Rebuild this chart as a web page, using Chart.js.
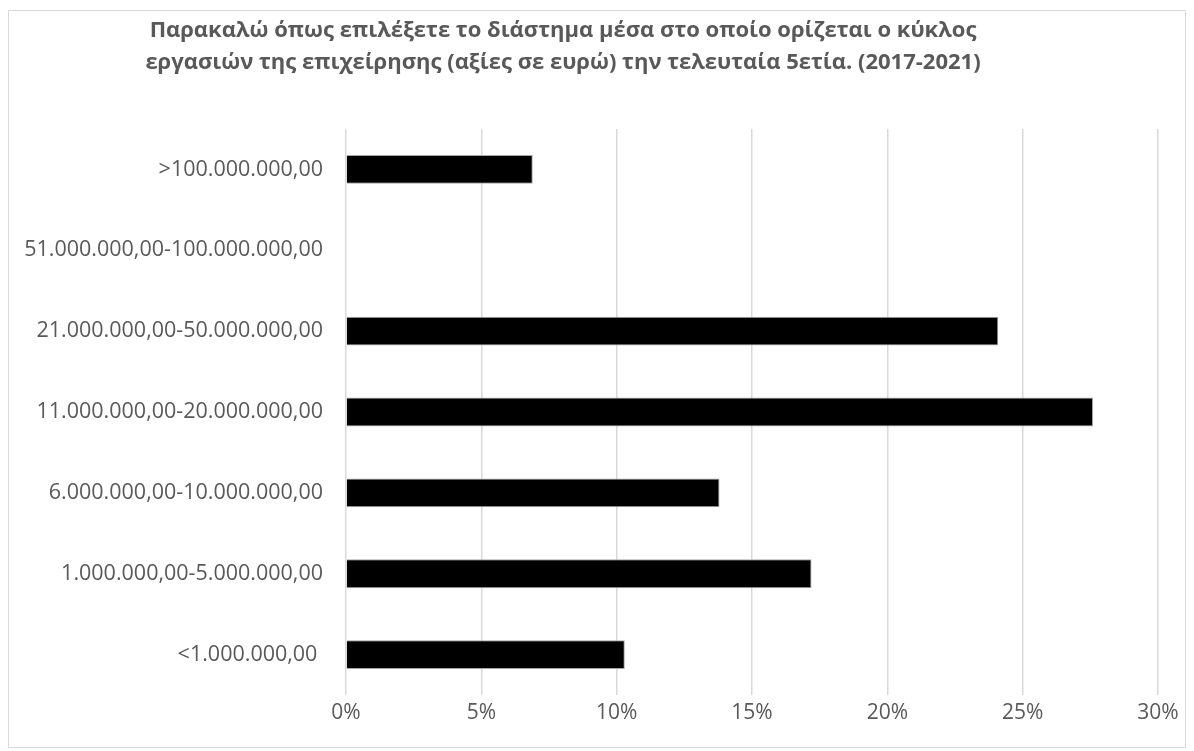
<!DOCTYPE html>
<html>
<head>
<meta charset="utf-8">
<script src="https://cdn.jsdelivr.net/npm/chart.js@4/dist/chart.umd.min.js"></script>
<style>
  html, body { margin: 0; padding: 0; background: #fff; }
  #wrap { width: 1194px; height: 751px; position: relative; }
</style>
</head>
<body>
<div id="wrap"><canvas id="chart"></canvas></div>
<script>
// data, top to bottom as in the picture
const categories = [
  '>100.000.000,00',
  '51.000.000,00-100.000.000,00',
  '21.000.000,00-50.000.000,00',
  '11.000.000,00-20.000.000,00',
  '6.000.000,00-10.000.000,00',
  '1.000.000,00-5.000.000,00',
  '<1.000.000,00 ',
];
const shares = [0.069, 0, 0.241, 0.276, 0.138, 0.172, 0.103];
const titleLines = [
  'Παρακαλώ όπως επιλέξετε το διάστημα μέσα στο οποίο ορίζεται ο κύκλος',
  'εργασιών της επιχείρησης (αξίες σε ευρώ) την τελευταία 5ετία. (2017-2021)',
];

const TEXT = '#595959';
const FONT = "'Open Sans', 'Noto Sans', sans-serif";

// frame + white background, title drawn by hand (it sits left of centre)
const framePlugin = {
  id: 'frame',
  beforeDraw(chart) {
    const c = chart.ctx;
    c.save();
    c.fillStyle = '#fff';
    c.fillRect(0, 0, chart.width, chart.height);
    c.strokeStyle = '#d9d9d9';
    c.lineWidth = 1;
    c.strokeRect(8.5, 10.5, 1177, 737);
    c.restore();
  },
  afterDraw(chart) {
    const c = chart.ctx;
    c.save();
    c.fillStyle = TEXT;
    c.font = 'bold 22px ' + FONT;
    c.textAlign = 'center';
    c.textBaseline = 'middle';
    c.fillText(titleLines[0], 563, 31);
    c.fillText(titleLines[1], 563, 63);
    c.restore();
  },
};

new Chart(document.getElementById('chart'), {
  type: 'bar',
  data: {
    labels: categories,
    datasets: [{
      data: shares,
      backgroundColor: '#000',
      borderColor: '#a6a6a6',
      borderWidth: 1,
      categoryPercentage: 1,
      barPercentage: 0.357,
    }],
  },
  options: {
    indexAxis: 'y',
    responsive: true,
    maintainAspectRatio: false,
    animation: false,
    layout: { padding: { top: 129, right: 36, left: 0, bottom: 0 } },
    plugins: {
      legend: { display: false },
      tooltip: { enabled: false },
    },
    scales: {
      x: {
        min: 0,
        max: 0.30,
        afterFit: (s) => { s.height = 56; },
        grid: { color: '#d9d9d9', lineWidth: 1.5, drawTicks: false },
        border: { display: false },
        ticks: {
          stepSize: 0.05,
          padding: 5,
          color: TEXT,
          font: { family: FONT, size: 21 },
          callback: (v) => Math.round(v * 100) + '%',
        },
      },
      y: {
        afterFit: (s) => { s.width = 346; },
        grid: { display: false },
        border: { display: false },
        ticks: {
          padding: 15,
          color: TEXT,
          font: { family: FONT, size: 21.5 },
        },
      },
    },
  },
  plugins: [framePlugin],
});
</script>
</body>
</html>
